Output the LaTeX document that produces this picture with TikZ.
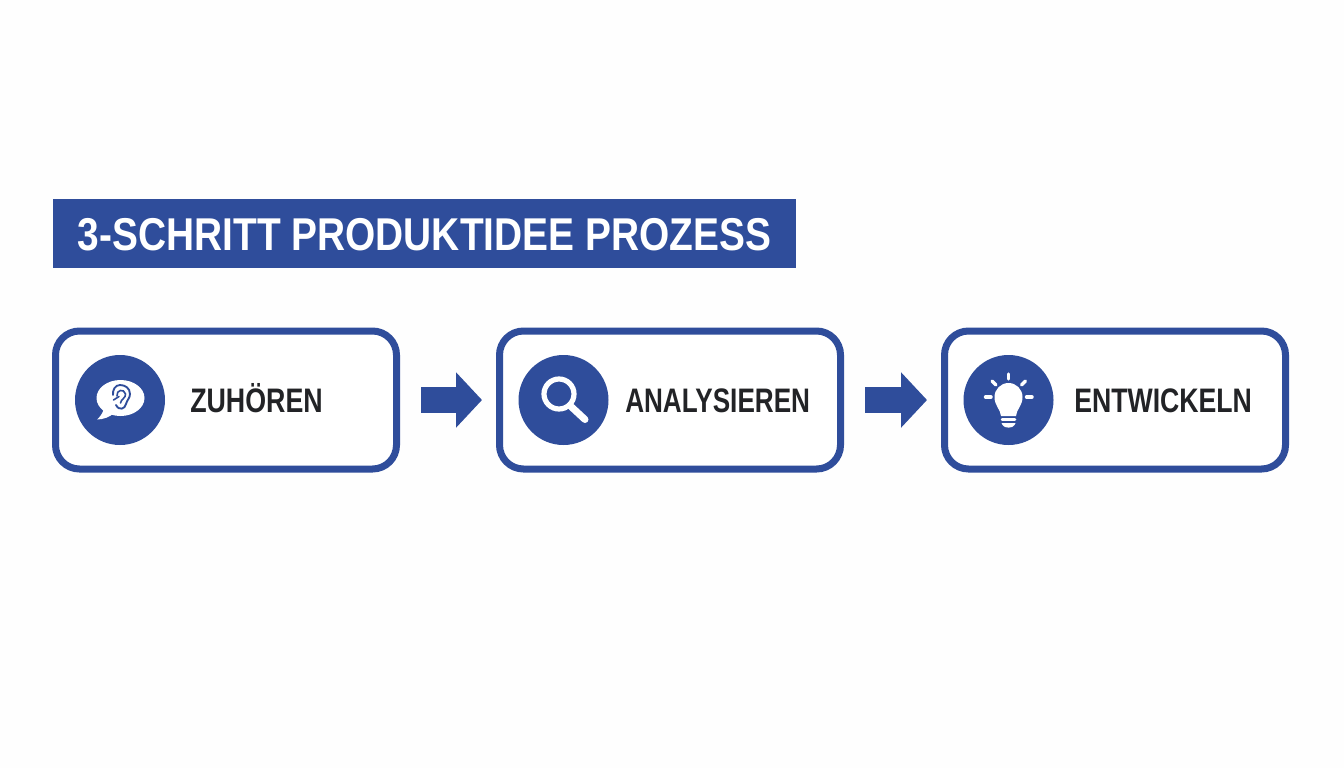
\documentclass[tikz,border=0pt]{standalone}
\usepackage{fontspec}
\setmainfont{Liberation Sans}
\newfontfamily\titlefont[FakeStretch=0.845]{Liberation Sans}
\newfontfamily\labelfont[FakeStretch=0.80]{Liberation Sans}
\usetikzlibrary{arrows.meta}
\definecolor{brandblue}{HTML}{2F4D9B}
\definecolor{inkdark}{HTML}{222326}
\definecolor{paper}{HTML}{FEFEFE}
\tikzset{
  x=0.75pt,y=-0.75pt,
  stepbox/.style={draw=brandblue,line width=5.25pt,fill=white,rounded corners=18pt,minimum width=255.75pt,minimum height=103.5pt,inner sep=0pt},
  iconbg/.style={circle,fill=brandblue,minimum size=67.5pt,inner sep=0pt},
  steplabel/.style={text=inkdark,anchor=base west,inner sep=0pt,font=\labelfont\bfseries\fontsize{25.5}{25.5}\selectfont},
  flow/.style={draw=brandblue,line width=19.5pt,-{Triangle[length=19.5pt,width=40.5pt]},shorten <=15.75pt,shorten >=10.5pt},
  icw/.style={draw=white,line cap=round},
}
\begin{document}
\begin{tikzpicture}
\useasboundingbox[fill=paper] (0,0) rectangle (1344,768);
\node[fill=brandblue,minimum width=557.25pt,minimum height=51.75pt,inner sep=0pt] (title) at (424.5,233) {};
\node[text=white,inner sep=0pt,anchor=base,font=\titlefont\bfseries\fontsize{34.5}{34.5}\selectfont] (titletext) at (424.5,250) {3-SCHRITT PRODUKTIDEE PROZESS};

\node[stepbox] (b1) at (226,400) {};
\node[stepbox] (b2) at (670,400) {};
\node[stepbox] (b3) at (1115,400) {};
\draw[flow] (b1.east) -- (b2.west);
\draw[flow] (b2.east) -- (b3.west);

\node[iconbg] (c1) at (120,400) {};
\node[iconbg] (c2) at (563.5,400) {};
\node[iconbg] (c3) at (1008.5,400) {};

\node[steplabel] (l1) at (190,412.5) {\scalebox{0.985}[1]{ZUHÖREN}};
\node[steplabel] (l2) at (625,412.5) {\scalebox{0.96}[1]{ANALYSIEREN}};
\node[steplabel] (l3) at (1074,412.5) {\scalebox{0.98}[1]{ENTWICKELN}};

% speech bubble with ear
\fill[white] (120.5,398) ellipse [x radius=24,y radius=18];
\fill[white] (104,408) .. controls (103,413) and (100,417) .. (97,419.5) .. controls (103,419.5) and (110,417) .. (114,413) -- cycle;
\draw[brandblue,line width=1.4pt,line cap=round] (116,405) .. controls (119,411) and (125,409) .. (126,404) .. controls (127,400) and (130,398) .. (130,394) .. controls (130,388) and (125,385) .. (120,385) .. controls (115,385) and (112.5,390) .. (113,395);
\draw[brandblue,line width=1.2pt,line cap=round] (117,396) .. controls (116,390) and (124,388) .. (125.5,394) .. controls (126,398) and (121,399) .. (120.5,403);
\draw[brandblue,line width=1.2pt,line cap=round] (113.5,400) -- (119,396.5);

% magnifier
\draw[icw,line width=3.9pt] (559,394) circle [radius=15];
\draw[icw,line width=5.25pt] (571,406.5) -- (585,419.5);

% light bulb
\fill[white] (1001,416) .. controls (1000.5,409) and (994.5,406) .. (994.5,397) arc[start angle=180,end angle=360,radius=14] .. controls (1022.5,406) and (1016.5,409) .. (1016,416) -- cycle;
\draw[icw,line width=1.9pt] (1002,419.5) -- (1015,419.5);
\fill[white] (1001.5,423) -- (1015.5,423) -- (1014.5,425) .. controls (1013,428.5) and (1004,428.5) .. (1002.5,425) -- cycle;
\draw[icw,line width=2.6pt] (1008.5,374) -- (1008.5,379);
\draw[icw,line width=2.6pt] (985.5,397) -- (991,397);
\draw[icw,line width=2.6pt] (1026.5,397) -- (1032,397);
\draw[icw,line width=2.6pt] (992,381) -- (996,385);
\draw[icw,line width=2.6pt] (1025.5,381) -- (1021.5,385);
\end{tikzpicture}
\end{document}
